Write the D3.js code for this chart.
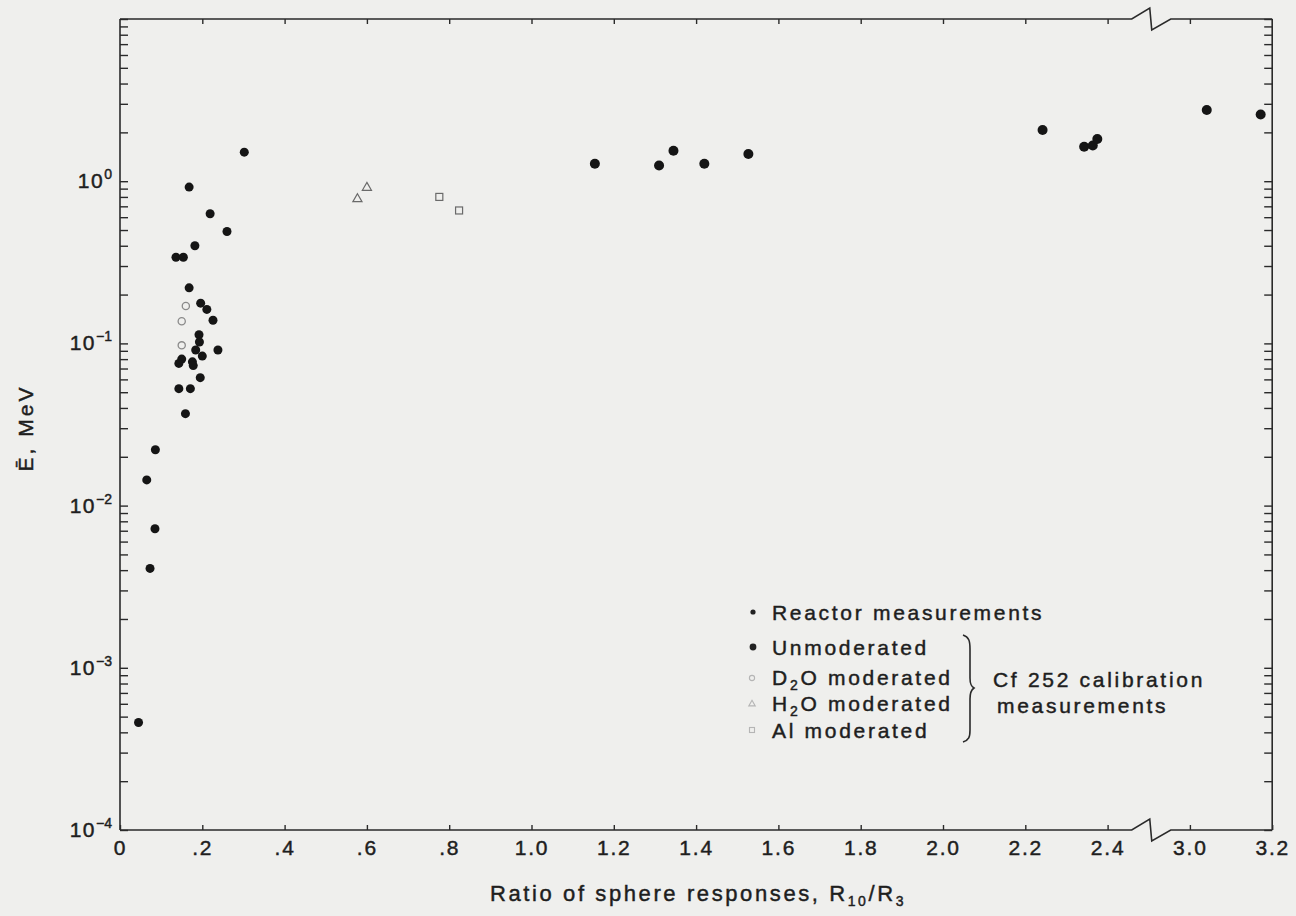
<!DOCTYPE html>
<html>
<head>
<meta charset="utf-8">
<script src="https://cdn.jsdelivr.net/npm/d3@7"></script>
<style>
  html, body { margin: 0; padding: 0; background: #efefed; }
  svg { display: block; }
  text { font-family: "Liberation Sans", Arial, Helvetica, sans-serif; fill: #1e1e1e; stroke: #1e1e1e; stroke-width: 0.45px; }
</style>
</head>
<body>
<svg id="chart" width="1296" height="916"></svg>
<script>
// Reactor measurements: sphere response ratio R10/R3 and mean energy (MeV)
const reactorRatio  = [0.302, 0.168, 0.219, 0.260, 0.182, 0.136, 0.154, 0.168, 0.196, 0.211,
                       0.226, 0.192, 0.193, 0.184, 0.238, 0.200, 0.150, 0.143, 0.176, 0.178,
                       0.195, 0.143, 0.171, 0.159, 0.086, 0.065, 0.085, 0.073, 0.045];
const reactorEnergy = [1.51, 0.92, 0.63, 0.49, 0.40, 0.34, 0.34, 0.22, 0.177, 0.162,
                       0.139, 0.113, 0.102, 0.091, 0.091, 0.0835, 0.080, 0.0753, 0.077, 0.073,
                       0.0615, 0.0526, 0.0526, 0.0369, 0.0221, 0.0144, 0.0072, 0.0041, 0.00046];

// Cf 252 calibration measurements
const unmodRatio  = [1.154, 1.310, 1.345, 1.420, 1.527, 2.242, 2.343, 2.364, 2.375, 3.041, 3.172];
const unmodEnergy = [1.28, 1.25, 1.54, 1.28, 1.47, 2.07, 1.63, 1.66, 1.82, 2.75, 2.58];
const d2oRatio  = [0.160, 0.150, 0.150];
const d2oEnergy = [0.170, 0.137, 0.0973];
const h2oRatio  = [0.577, 0.600];
const h2oEnergy = [0.776, 0.912];
const alRatio   = [0.776, 0.824];
const alEnergy  = [0.80, 0.66];

// Axis ticks
const xTickValues = [0, 0.2, 0.4, 0.6, 0.8, 1.0, 1.2, 1.4, 1.6, 1.8, 2.0, 2.2, 2.4, 3.0, 3.2];
const xTickLabels = ["0", ".2", ".4", ".6", ".8", "1.0", "1.2", "1.4", "1.6", "1.8", "2.0", "2.2", "2.4", "3.0", "3.2"];
const yDecadeExponents = [-4, -3, -2, -1, 0];
const yDecadeLabels = ["\u22124", "\u22123", "\u22122", "\u22121", "0"];

const svg = d3.select("#chart");
const ink = "#2a2a2a";

// x axis is broken between 2.5 and 2.9
const unit = 411.5;
const x0 = 120;
const x = d3.scaleLinear()
  .domain([0, 2.5, 2.9, 3.2])
  .range([x0, x0 + 2.5 * unit, x0 + 2.5 * unit, x0 + 2.8 * unit]);
const y = d3.scaleLog().domain([1e-4, 10]).range([830, 19]);

const xL = x(0), xR = x(3.2), yB = y(1e-4), yT = y(10);
const xBreak = x(2.5) + 2;

// frame lines with the break zig-zag on the top and bottom edges
function edge(yy, dir) {
  return `M${xL},${yy} L${xBreak - 19},${yy} L${xBreak - 1},${yy - 11 * dir} L${xBreak + 1},${yy + 11 * dir} L${xBreak + 20},${yy} L${xR},${yy}`;
}
const frame = svg.append("g").attr("fill", "none").attr("stroke", ink).attr("stroke-width", 1.6);
frame.append("path").attr("d", edge(yB, 1));
frame.append("path").attr("d", edge(yT, 1));
frame.append("line").attr("x1", xL).attr("x2", xL).attr("y1", yT).attr("y2", yB);
frame.append("line").attr("x1", xR).attr("x2", xR).attr("y1", yT).attr("y2", yB);

function styleAxis(g) {
  g.select(".domain").remove();
  g.selectAll(".tick line").attr("stroke", ink).attr("stroke-width", 1.4);
}

// bottom axis (ticks inward)
svg.append("g")
  .attr("transform", `translate(0,${yB})`)
  .call(d3.axisBottom(x).tickValues(xTickValues).tickSize(-5).tickPadding(10)
    .tickFormat((d, i) => xTickLabels[i]))
  .call(styleAxis)
  .call(g => g.selectAll(".tick text")
    .attr("font-size", 21).attr("letter-spacing", 1.8).attr("fill", "#1e1e1e")
    .style("font-family", '"Liberation Sans", Arial, sans-serif'));

// top axis
svg.append("g")
  .attr("transform", `translate(0,${yT})`)
  .call(d3.axisTop(x).tickValues(xTickValues.filter(v => v > 0 && v < 3.2)).tickSize(-5).tickFormat(() => ""))
  .call(styleAxis);

// left and right log axes with minor ticks
const yTicks = y.ticks();
svg.append("g")
  .attr("transform", `translate(${xL},0)`)
  .call(d3.axisLeft(y).tickValues(yTicks).tickSize(-8).tickFormat(() => ""))
  .call(styleAxis);
svg.append("g")
  .attr("transform", `translate(${xR},0)`)
  .call(d3.axisRight(y).tickValues(yTicks).tickSize(-8).tickFormat(() => ""))
  .call(styleAxis);

// decade labels 10^n
const yLab = svg.append("g").attr("font-size", 21).attr("text-anchor", "end");
yDecadeExponents.forEach((e, i) => {
  const t = yLab.append("text")
    .attr("x", 112)
    .attr("y", y(Math.pow(10, e)) + 7);
  t.append("tspan").attr("letter-spacing", 1.5).text("10");
  t.append("tspan").attr("font-size", 14).attr("dy", -9).text(yDecadeLabels[i]);
});

// axis titles
svg.append("text")
  .attr("transform", "translate(33,428) rotate(-90)")
  .attr("text-anchor", "middle")
  .attr("font-size", 21)
  .attr("letter-spacing", 3)
  .text("\u0112, MeV");

const xt = svg.append("text")
  .attr("x", 490).attr("y", 901)
  .attr("font-size", 22)
  .attr("letter-spacing", 2.6);
xt.append("tspan").text("Ratio of sphere responses, R");
xt.append("tspan").attr("font-size", 14).attr("dy", 5).text("10");
xt.append("tspan").attr("dy", -5).text("/R");
xt.append("tspan").attr("font-size", 14).attr("dy", 5).text("3");

// data marks
const marks = svg.append("g");
marks.selectAll("circle.reactor")
  .data(d3.zip(reactorRatio, reactorEnergy))
  .join("circle").attr("class", "reactor")
  .attr("cx", d => x(d[0])).attr("cy", d => y(d[1]))
  .attr("r", 4.5).attr("fill", "#151515");

marks.selectAll("circle.unmod")
  .data(d3.zip(unmodRatio, unmodEnergy))
  .join("circle").attr("class", "unmod")
  .attr("cx", d => x(d[0])).attr("cy", d => y(d[1]))
  .attr("r", 5).attr("fill", "#151515");

marks.selectAll("circle.d2o")
  .data(d3.zip(d2oRatio, d2oEnergy))
  .join("circle").attr("class", "d2o")
  .attr("cx", d => x(d[0])).attr("cy", d => y(d[1]))
  .attr("r", 3.6).attr("fill", "none").attr("stroke", "#8a8a8a").attr("stroke-width", 1.3);

const tri = d3.symbol().type(d3.symbolTriangle).size(36);
marks.selectAll("path.h2o")
  .data(d3.zip(h2oRatio, h2oEnergy))
  .join("path").attr("class", "h2o")
  .attr("d", tri)
  .attr("transform", d => `translate(${x(d[0])},${y(d[1])})`)
  .attr("fill", "none").attr("stroke", "#6a6a6a").attr("stroke-width", 1.2);

marks.selectAll("rect.al")
  .data(d3.zip(alRatio, alEnergy))
  .join("rect").attr("class", "al")
  .attr("x", d => x(d[0]) - 3.5).attr("y", d => y(d[1]) - 3.5)
  .attr("width", 7).attr("height", 7)
  .attr("fill", "none").attr("stroke", "#6a6a6a").attr("stroke-width", 1.2);

// legend
const lg = svg.append("g").attr("font-size", 21).attr("letter-spacing", 2.7);
lg.append("circle").attr("cx", 753).attr("cy", 612).attr("r", 2.6).attr("fill", "#222");
lg.append("text").attr("x", 772).attr("y", 620).text("Reactor measurements");
lg.append("circle").attr("cx", 753).attr("cy", 647).attr("r", 3.4).attr("fill", "#222");
lg.append("text").attr("x", 772).attr("y", 655).text("Unmoderated");
lg.append("circle").attr("cx", 752).attr("cy", 678).attr("r", 2.6)
  .attr("fill", "none").attr("stroke", "#b5b5b5").attr("stroke-width", 1.1);
const l3 = lg.append("text").attr("x", 772).attr("y", 685);
l3.append("tspan").text("D");
l3.append("tspan").attr("font-size", 14).attr("dy", 5).text("2");
l3.append("tspan").attr("dy", -5).text("O moderated");
lg.append("path").attr("d", d3.symbol().type(d3.symbolTriangle).size(18))
  .attr("transform", "translate(752,704)")
  .attr("fill", "none").attr("stroke", "#b5b5b5").attr("stroke-width", 1.1);
const l4 = lg.append("text").attr("x", 772).attr("y", 711);
l4.append("tspan").text("H");
l4.append("tspan").attr("font-size", 14).attr("dy", 5).text("2");
l4.append("tspan").attr("dy", -5).text("O moderated");
lg.append("rect").attr("x", 749.5).attr("y", 727.5).attr("width", 5).attr("height", 5)
  .attr("fill", "none").attr("stroke", "#b5b5b5").attr("stroke-width", 1.1);
lg.append("text").attr("x", 772).attr("y", 738).text("Al moderated");

// brace grouping the calibration entries
lg.append("path")
  .attr("d", "M963,635 C969,637 970,641 970,649 L970,678 C970,684 971,686 974,688 C971,690 970,693 970,699 L970,730 C970,737 969,740 963,742")
  .attr("fill", "none").attr("stroke", ink).attr("stroke-width", 1.6);
lg.append("text").attr("x", 993).attr("y", 687).text("Cf 252 calibration");
lg.append("text").attr("x", 997).attr("y", 713).text("measurements");
</script>
</body>
</html>
